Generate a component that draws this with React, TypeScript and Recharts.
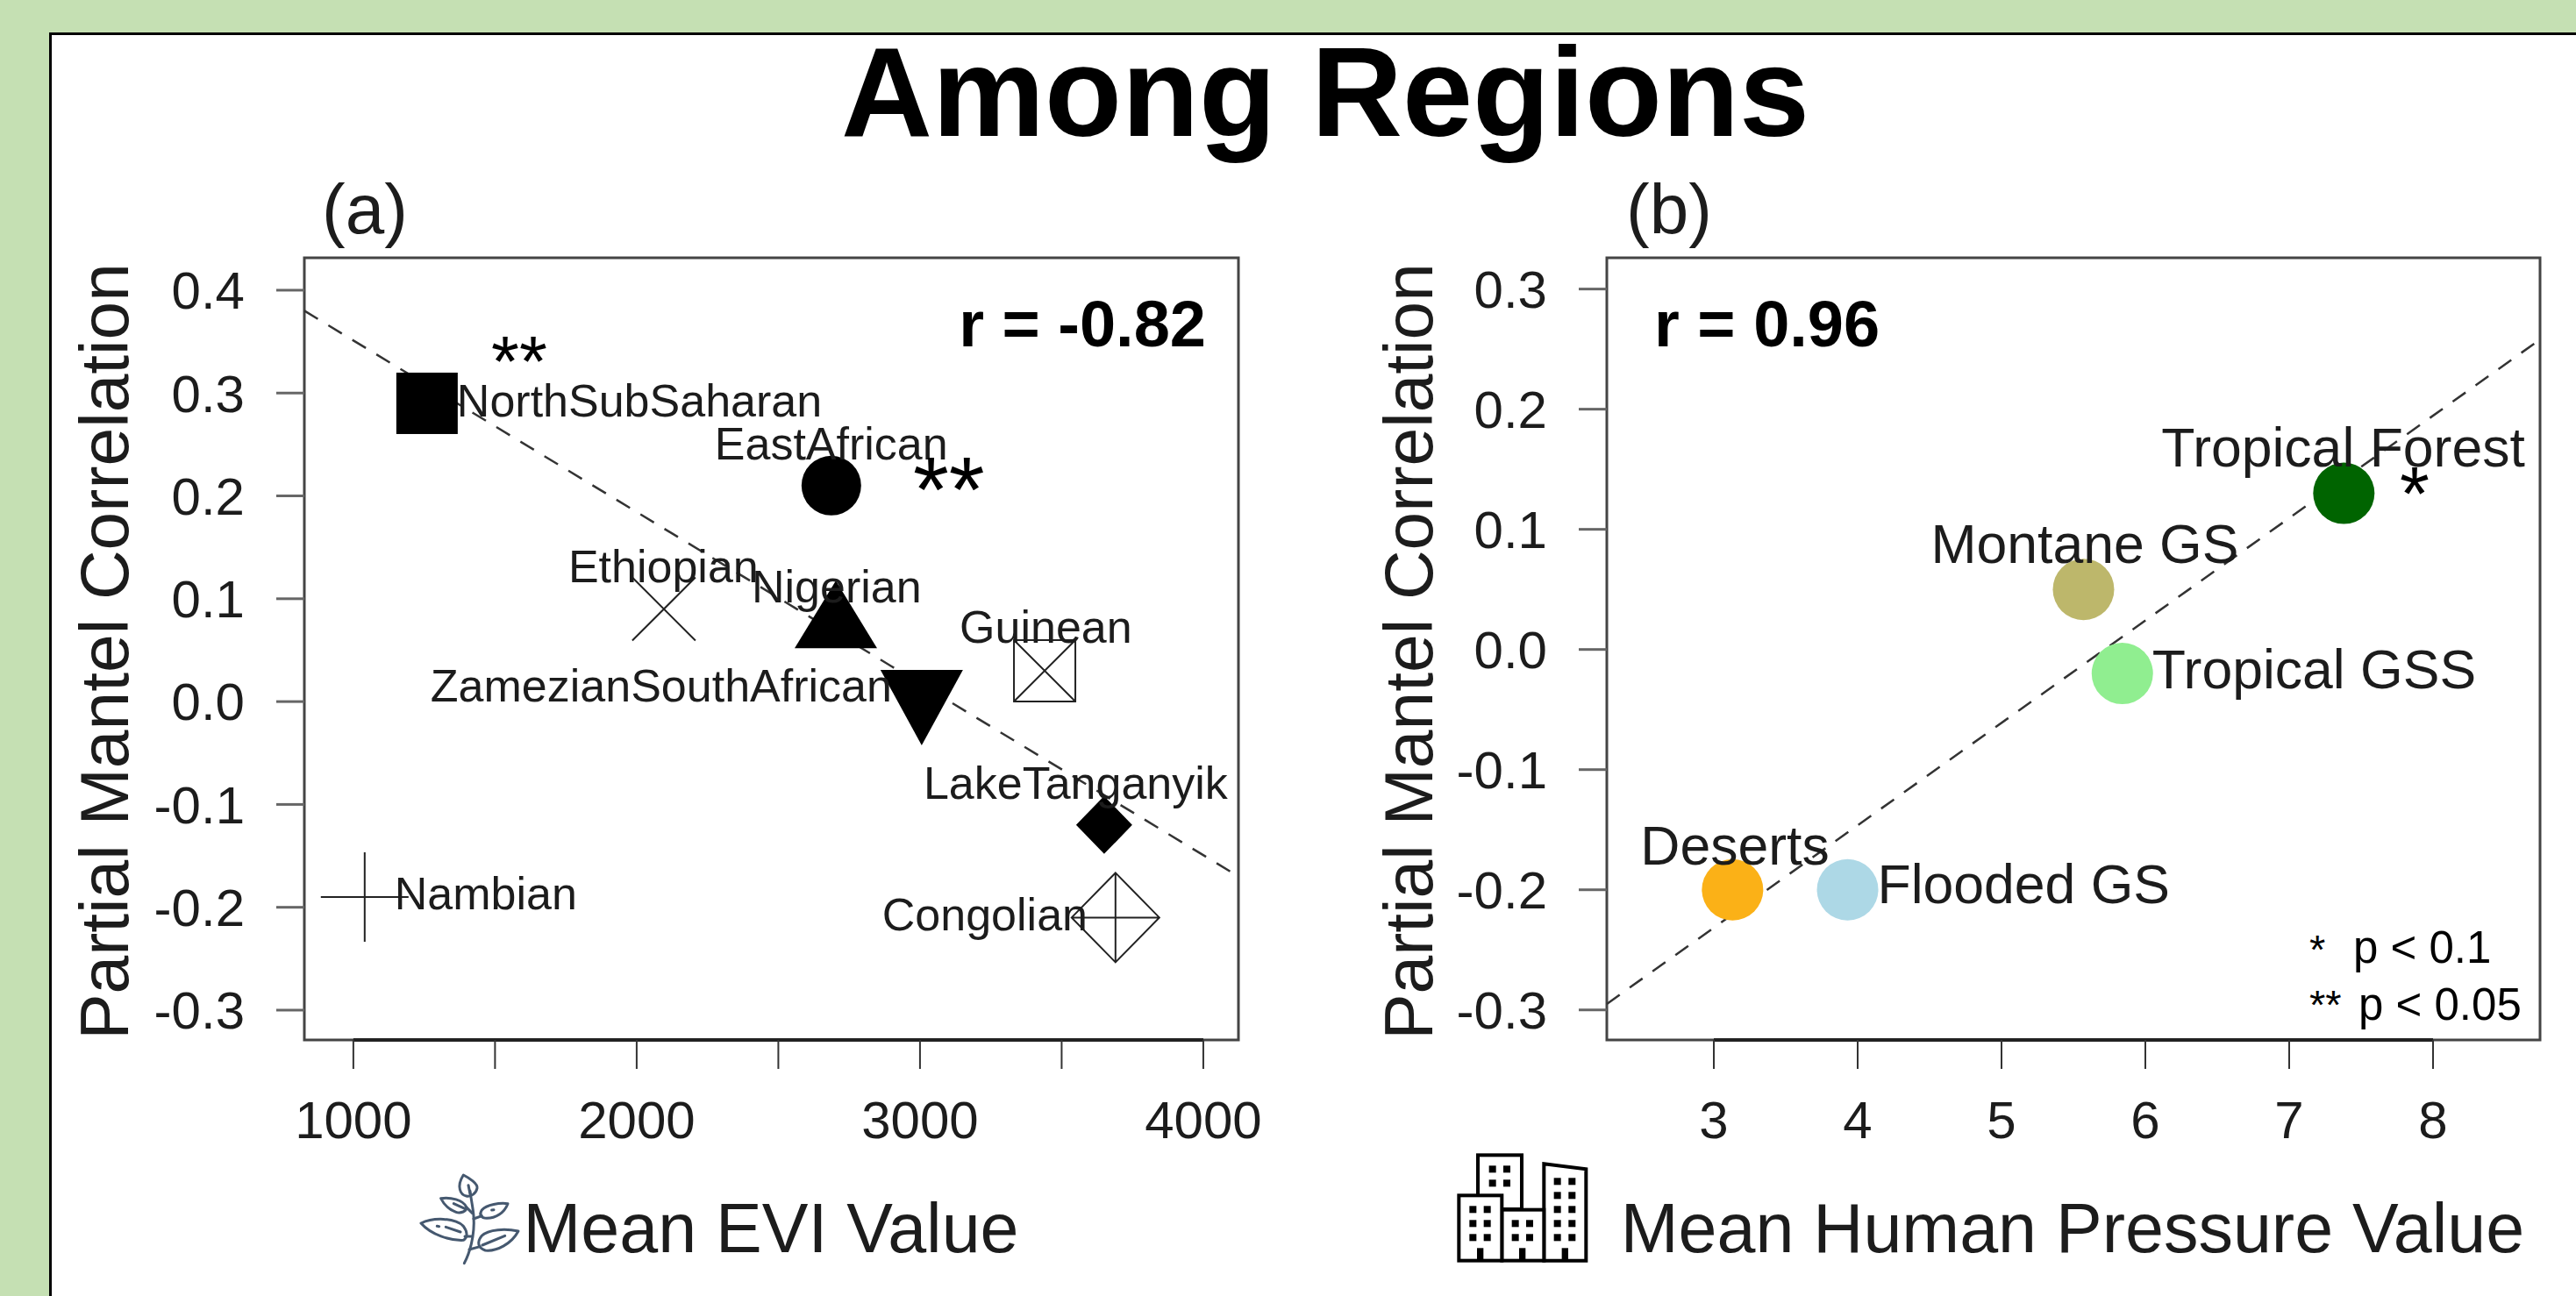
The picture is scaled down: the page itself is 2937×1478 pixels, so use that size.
import React from 'react';
import { ScatterChart, Scatter, XAxis, YAxis, ReferenceLine, ReferenceArea } from 'recharts';

const regionNames = ['NorthSubSaharan', 'EastAfrican', 'Ethiopian', 'Nigerian', 'ZamezianSouthAfrican', 'Guinean', 'LakeTanganyik', 'Congolian', 'Nambian'];
const regionEvi = [1260, 2687, 2096, 2703, 3006, 3440, 3650, 3690, 1040];
const regionCorr = [0.29, 0.21, 0.09, 0.08, 0.0, 0.03, -0.12, -0.21, -0.19];
const regionMarks = ['square', 'circle', 'cross', 'triangle', 'invTriangle', 'boxX', 'diamond', 'diamondPlus', 'plus'];
const regionLabelDx = [34, -133, -109, -96, -560, -97, -206, -266, 34];
const regionLabelDy = [15, -30, -31, -19, 0, -32, -30, 15, 14];

const biomeNames = ['Deserts', 'Flooded GS', 'Montane GS', 'Tropical GSS', 'Tropical Forest'];
const biomePressure = [3.13, 3.93, 5.57, 5.84, 7.38];
const biomeCorr = [-0.2, -0.2, 0.05, -0.02, 0.13];
const biomeColors = ['#FBB117', '#ADD8E6', '#BDB76B', '#90EE90', '#006400'];
const biomeLabelDx = [-105, 34, -174, 34, -208];
const biomeLabelDy = [-29, 15, -30, 17, -31];

const xTicksA = [1000, 1500, 2000, 2500, 3000, 3500, 4000];
const yTicksA = [-0.3, -0.2, -0.1, 0, 0.1, 0.2, 0.3, 0.4];
const xTicksB = [3, 4, 5, 6, 7, 8];
const yTicksB = [-0.3, -0.2, -0.1, 0, 0.1, 0.2, 0.3];
const xDomainA: [number, number] = [827, 4124];
const yDomainA: [number, number] = [-0.329, 0.4315];
const xDomainB: [number, number] = [2.256, 8.744];
const yDomainB: [number, number] = [-0.325, 0.326];
const fitA = [0.38, -0.17];
const fitB = [-0.295, 0.258];

const regionData = regionNames.map((name, i) => ({ name, x: regionEvi[i], y: regionCorr[i], mark: regionMarks[i], dx: regionLabelDx[i], dy: regionLabelDy[i] }));
const biomeData = biomeNames.map((name, i) => ({ name, x: biomePressure[i], y: biomeCorr[i], color: biomeColors[i], dx: biomeLabelDx[i], dy: biomeLabelDy[i] }));

const FONT = '"Liberation Sans", Arial, sans-serif';
const INK = '#1c1c1c';

function RegionMark(props: any) {
  const { cx, cy, payload } = props;
  const m = payload.mark;
  let g: React.ReactNode = null;
  const thin = { stroke: '#222', strokeWidth: 2, fill: 'none' };
  if (m === 'square') g = <rect x={cx - 35} y={cy - 35} width={70} height={70} fill="#000" />;
  if (m === 'circle') g = <circle cx={cx} cy={cy} r={34} fill="#000" />;
  if (m === 'triangle') g = <polygon points={`${cx},${cy - 44} ${cx + 47},${cy + 33} ${cx - 47},${cy + 33}`} fill="#000" />;
  if (m === 'invTriangle') g = <polygon points={`${cx},${cy + 50} ${cx + 47},${cy - 36} ${cx - 47},${cy - 36}`} fill="#000" />;
  if (m === 'diamond') g = <polygon points={`${cx},${cy - 33} ${cx + 32},${cy} ${cx},${cy + 33} ${cx - 32},${cy}`} fill="#000" />;
  if (m === 'cross') g = <path d={`M${cx - 36},${cy - 36}L${cx + 36},${cy + 36}M${cx - 36},${cy + 36}L${cx + 36},${cy - 36}`} {...thin} />;
  if (m === 'plus') g = <path d={`M${cx - 50},${cy}H${cx + 50}M${cx},${cy - 51}V${cy + 51}`} {...thin} />;
  if (m === 'boxX') g = <path d={`M${cx - 35},${cy - 35}H${cx + 35}V${cy + 35}H${cx - 35}ZM${cx - 35},${cy - 35}L${cx + 35},${cy + 35}M${cx - 35},${cy + 35}L${cx + 35},${cy - 35}`} {...thin} />;
  if (m === 'diamondPlus') g = <path d={`M${cx},${cy - 51}L${cx + 50},${cy}L${cx},${cy + 51}L${cx - 50},${cy}ZM${cx - 50},${cy}H${cx + 50}M${cx},${cy - 51}V${cy + 51}`} {...thin} />;
  return (
    <g>
      {g}
      <text x={cx + payload.dx} y={cy + payload.dy} fontSize={52} fontFamily={FONT} fill={INK}>{payload.name}</text>
    </g>
  );
}

function BiomeMark(props: any) {
  const { cx, cy, payload } = props;
  return (
    <g>
      <circle cx={cx} cy={cy} r={35} fill={payload.color} />
      <text x={cx + payload.dx} y={cy + payload.dy} fontSize={62.5} fontFamily={FONT} fill={INK}>{payload.name}</text>
    </g>
  );
}

const tickStyle = { fontSize: 60, fontFamily: FONT, fill: INK };
const tickLine = { stroke: '#333', strokeWidth: 2 };

function Panel(props: any) {
  const { width, yAxisWidth, marginRight, xDomain, yDomain, xTicks, yTicks, fit, data, shape, fmt, left } = props;
  return (
    <div style={{ position: 'absolute', left, top: 0 }}>
      <ScatterChart width={width} height={1478} margin={{ top: 294, right: marginRight, bottom: 0, left: 0 }}>
        <XAxis type="number" dataKey="x" domain={xDomain} ticks={xTicks} interval={0} allowDataOverflow height={292}
          tick={tickStyle} tickLine={tickLine} tickSize={33} tickMargin={36} axisLine={false} tickFormatter={fmt} />
        <YAxis type="number" dataKey="y" domain={yDomain} ticks={yTicks} interval={0} allowDataOverflow width={yAxisWidth}
          tick={tickStyle} tickLine={{ stroke: '#666', strokeWidth: 3 }} tickSize={32} tickMargin={36} axisLine={false}
          tickFormatter={(v: number) => v.toFixed(1)} />
        <ReferenceArea x1={xDomain[0]} x2={xDomain[1]} y1={yDomain[0]} y2={yDomain[1]} fill="none" stroke="#444" strokeWidth={3} ifOverflow="visible" />
        <ReferenceLine segment={[{ x: xTicks[0], y: yDomain[0] }, { x: xTicks[xTicks.length - 1], y: yDomain[0] }]} stroke="#222" strokeWidth={4} ifOverflow="visible" />
        <Scatter data={data} isAnimationActive={false} shape={shape} />
        <ReferenceLine segment={[{ x: xDomain[0], y: fit[0] }, { x: xDomain[1], y: fit[1] }]} stroke="#333" strokeWidth={2.5} strokeDasharray="18 14" ifOverflow="visible" />
      </ScatterChart>
    </div>
  );
}

function LeafIcon() {
  return (
    <g transform="translate(460,1320) scale(0.3333)" stroke="#45586F" strokeWidth={9} fill="none" strokeLinecap="round" strokeLinejoin="round">
      <path d="M208,362 C225,330 245,270 240,200 C238,170 232,150 228,115" />
      <path d="M205,60 C225,70 255,90 252,105 C248,125 230,135 215,132 C195,128 180,100 205,60 Z" />
      <path d="M128,140 C160,135 205,145 215,170 C218,185 195,192 180,187 C160,180 140,165 128,140 Z" />
      <path d="M357,158 C330,155 285,160 268,180 C258,195 265,208 285,208 C315,208 345,190 357,158 Z" />
      <path d="M60,225 C100,205 175,205 205,235 C220,255 220,275 205,283 C160,285 95,265 60,225 Z" />
      <path d="M393,252 C350,243 290,245 268,268 C250,290 255,310 280,318 C320,322 370,295 393,252 Z" />
      <path d="M145,238 L195,255 M347,268 L270,300 M172,158 L210,175 M222,95 L228,125 M240,210 L268,200 M235,190 L215,170 M235,270 L210,270 M225,315 L262,305 M115,235 L122,236 M302,180 L309,179" />
    </g>
  );
}

const backWindows = [[155, 85], [204, 85], [155, 133], [204, 133]];
const leftWindows = [[88, 223], [137, 223], [88, 271], [137, 271], [88, 319], [137, 319]];
const midWindows = [[233, 271], [282, 271], [233, 319], [282, 319]];
const rightWindows = [127, 175, 223, 271, 319].flatMap((y) => [[377, y], [427, y]]);
const doorCentres = [113, 257, 403];

function BuildingIcon() {
  return (
    <g transform="translate(1650,1305) scale(0.3333)" fill="#fff" stroke="#000" strokeWidth={12}>
      <rect x={105} y={37} width={150} height={185} />
      <polygon points="331,67 475,85 475,398 331,398" />
      <rect x={187} y={224} width={144} height={174} />
      <rect x={40} y={175} width={147} height={223} />
      <g stroke="none" fill="#000">
        {[...backWindows, ...leftWindows, ...midWindows, ...rightWindows].map((w, i) => (
          <rect key={i} x={w[0] - 12} y={w[1] - 12} width={24} height={24} />
        ))}
        {doorCentres.map((c) => <rect key={c} x={c - 11} y={355} width={22} height={43} />)}
      </g>
    </g>
  );
}

export default function App() {
  const t = { fontFamily: FONT, fill: INK };
  return (
    <div style={{ position: 'absolute', left: 0, top: 0, width: 2937, height: 1478, overflow: 'hidden', background: '#C5E0B3' }}>
      <div style={{ position: 'absolute', left: 56, top: 37, width: 2900, height: 1500, background: '#fff', border: '3px solid #000', boxSizing: 'border-box' }} />
      <Panel left={0} width={1500} yAxisWidth={347} marginRight={88} xDomain={xDomainA} yDomain={yDomainA} xTicks={xTicksA} yTicks={yTicksA}
        fit={fitA} data={regionData} shape={RegionMark} fmt={(v: number) => (v % 1000 === 0 ? String(v) : '')} />
      <Panel left={1500} width={1437} yAxisWidth={332} marginRight={41} xDomain={xDomainB} yDomain={yDomainB} xTicks={xTicksB} yTicks={yTicksB}
        fit={fitB} data={biomeData} shape={BiomeMark} fmt={(v: number) => String(v)} />
      <svg width={2937} height={1478} style={{ position: 'absolute', left: 0, top: 0, pointerEvents: 'none' }}>
        <text x={1511} y={155} textAnchor="middle" fontSize={144} fontWeight="bold" fontFamily={FONT} fill="#000">Among Regions</text>
        <text x={416} y={266} textAnchor="middle" fontSize={80} {...t}>(a)</text>
        <text x={1903} y={266} textAnchor="middle" fontSize={80} {...t}>(b)</text>
        <text transform="translate(146,743) rotate(-90)" textAnchor="middle" fontSize={78.5} {...t}>Partial Mantel Correlation</text>
        <text transform="translate(1633,743) rotate(-90)" textAnchor="middle" fontSize={78.5} {...t}>Partial Mantel Correlation</text>
        <text x={879} y={1428} textAnchor="middle" fontSize={79} {...t}>Mean EVI Value</text>
        <text x={2363} y={1428} textAnchor="middle" fontSize={79} {...t}>Mean Human Pressure Value</text>
        <text x={1375} y={395} textAnchor="end" fontSize={74} fontWeight="bold" {...t} fill="#000">r = -0.82</text>
        <text x={1886} y={395} fontSize={74} fontWeight="bold" {...t} fill="#000">r = 0.96</text>
        <text x={560} y={440} fontSize={82} {...t} fill="#000">**</text>
        <text x={1041} y={595} fontSize={105} {...t} fill="#000">**</text>
        <text x={2736} y={593} fontSize={87} {...t} fill="#000">*</text>
        <text x={2633} y={1099} fontSize={47} {...t} fill="#000">*</text>
        <text x={2683} y={1098} fontSize={51} {...t} fill="#000">p &lt; 0.1</text>
        <text x={2633} y={1162} fontSize={47} {...t} fill="#000">**</text>
        <text x={2689} y={1163} fontSize={51} {...t} fill="#000">p &lt; 0.05</text>
        <LeafIcon />
        <BuildingIcon />
      </svg>
    </div>
  );
}
